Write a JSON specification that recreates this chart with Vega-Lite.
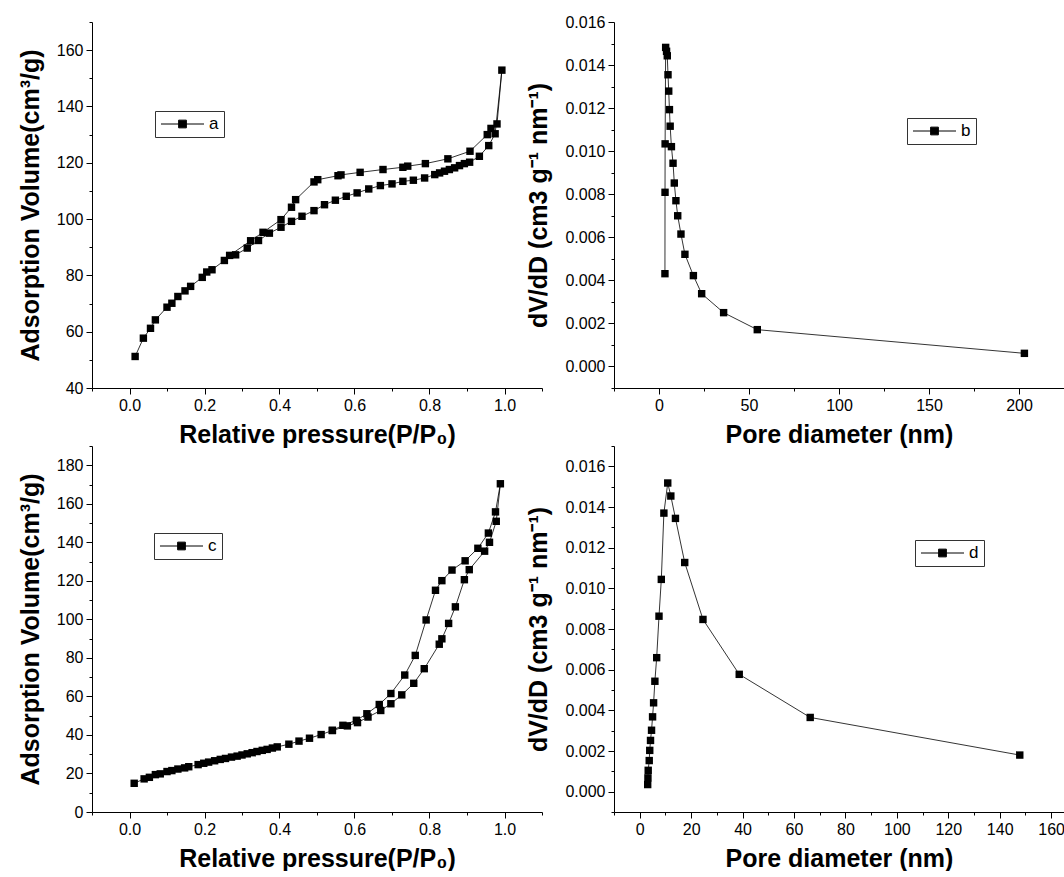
{
  "$schema": "https://vega.github.io/schema/vega-lite/v6.json",
  "background": "white",
  "padding": {"left": 18, "top": 14, "right": 0, "bottom": 0},
  "autosize": {"type": "pad"},
  "config": {
    "font": "Liberation Sans",
    "view": {"stroke": null},
    "axis": {
      "grid": false,
      "domainColor": "black",
      "domainWidth": 1,
      "tickColor": "black",
      "tickWidth": 1,
      "labelFont": "Liberation Sans",
      "labelFontSize": 16,
      "labelColor": "black",
      "labelPadding": 3,
      "labelOverlap": false,
      "labelFlush": false,
      "titleFont": "Liberation Sans",
      "titleFontSize": 25,
      "titleFontWeight": "bold",
      "titleColor": "black"
    },
    "axisX": {"titlePadding": 9},
    "axisY": {"titlePadding": 13},
    "legend": {
      "strokeColor": "#333333",
      "fillColor": "white",
      "padding": 5,
      "labelFont": "Liberation Sans",
      "labelFontSize": 17,
      "labelColor": "black",
      "labelOffset": 4,
      "symbolSize": 1850,
      "symbolStrokeWidth": 1,
      "symbolStrokeColor": "black",
      "symbolFillColor": "black",
      "clipHeight": 16
    }
  },
  "datasets": {
    "isoA": [
      {"i": 1, "p": 0.015, "v": 51.2, "s": "a"},
      {"i": 2, "p": 0.037, "v": 57.7, "s": "a"},
      {"i": 3, "p": 0.056, "v": 61.2, "s": "a"},
      {"i": 4, "p": 0.069, "v": 64.2, "s": "a"},
      {"i": 5, "p": 0.1, "v": 68.7, "s": "a"},
      {"i": 6, "p": 0.113, "v": 70.1, "s": "a"},
      {"i": 7, "p": 0.129, "v": 72.5, "s": "a"},
      {"i": 8, "p": 0.148, "v": 74.5, "s": "a"},
      {"i": 9, "p": 0.163, "v": 76.1, "s": "a"},
      {"i": 10, "p": 0.194, "v": 79.3, "s": "a"},
      {"i": 11, "p": 0.206, "v": 81.2, "s": "a"},
      {"i": 12, "p": 0.22, "v": 82.0, "s": "a"},
      {"i": 13, "p": 0.253, "v": 85.3, "s": "a"},
      {"i": 14, "p": 0.283, "v": 87.3, "s": "a"},
      {"i": 15, "p": 0.314, "v": 89.7, "s": "a"},
      {"i": 16, "p": 0.344, "v": 92.4, "s": "a"},
      {"i": 17, "p": 0.373, "v": 95.0, "s": "a"},
      {"i": 18, "p": 0.404, "v": 97.1, "s": "a"},
      {"i": 19, "p": 0.432, "v": 99.2, "s": "a"},
      {"i": 20, "p": 0.46, "v": 101.0, "s": "a"},
      {"i": 21, "p": 0.492, "v": 103.0, "s": "a"},
      {"i": 22, "p": 0.52, "v": 105.1, "s": "a"},
      {"i": 23, "p": 0.549, "v": 106.7, "s": "a"},
      {"i": 24, "p": 0.578, "v": 108.1, "s": "a"},
      {"i": 25, "p": 0.607, "v": 109.3, "s": "a"},
      {"i": 26, "p": 0.638, "v": 110.7, "s": "a"},
      {"i": 27, "p": 0.669, "v": 111.9, "s": "a"},
      {"i": 28, "p": 0.7, "v": 112.5, "s": "a"},
      {"i": 29, "p": 0.729, "v": 113.4, "s": "a"},
      {"i": 30, "p": 0.757, "v": 113.8, "s": "a"},
      {"i": 31, "p": 0.787, "v": 114.6, "s": "a"},
      {"i": 32, "p": 0.814, "v": 115.8, "s": "a"},
      {"i": 33, "p": 0.827, "v": 116.4, "s": "a"},
      {"i": 34, "p": 0.84, "v": 117.0, "s": "a"},
      {"i": 35, "p": 0.853, "v": 117.6, "s": "a"},
      {"i": 36, "p": 0.867, "v": 118.2, "s": "a"},
      {"i": 37, "p": 0.88, "v": 119.0, "s": "a"},
      {"i": 38, "p": 0.893, "v": 119.7, "s": "a"},
      {"i": 39, "p": 0.907, "v": 120.2, "s": "a"},
      {"i": 40, "p": 0.933, "v": 122.3, "s": "a"},
      {"i": 41, "p": 0.958, "v": 126.1, "s": "a"},
      {"i": 42, "p": 0.975, "v": 130.3, "s": "a"},
      {"i": 43, "p": 0.993, "v": 152.9, "s": "a"},
      {"i": 44, "p": 0.98, "v": 133.8, "s": "a"},
      {"i": 45, "p": 0.964, "v": 132.2, "s": "a"},
      {"i": 46, "p": 0.954, "v": 130.0, "s": "a"},
      {"i": 47, "p": 0.908, "v": 124.1, "s": "a"},
      {"i": 48, "p": 0.849, "v": 121.4, "s": "a"},
      {"i": 49, "p": 0.789, "v": 119.7, "s": "a"},
      {"i": 50, "p": 0.742, "v": 118.8, "s": "a"},
      {"i": 51, "p": 0.729, "v": 118.4, "s": "a"},
      {"i": 52, "p": 0.676, "v": 117.6, "s": "a"},
      {"i": 53, "p": 0.615, "v": 116.6, "s": "a"},
      {"i": 54, "p": 0.564, "v": 115.7, "s": "a"},
      {"i": 55, "p": 0.556, "v": 115.4, "s": "a"},
      {"i": 56, "p": 0.502, "v": 114.0, "s": "a"},
      {"i": 57, "p": 0.492, "v": 113.2, "s": "a"},
      {"i": 58, "p": 0.443, "v": 106.9, "s": "a"},
      {"i": 59, "p": 0.432, "v": 104.2, "s": "a"},
      {"i": 60, "p": 0.404, "v": 99.8, "s": "a"},
      {"i": 61, "p": 0.356, "v": 95.3, "s": "a"},
      {"i": 62, "p": 0.323, "v": 92.3, "s": "a"},
      {"i": 63, "p": 0.267, "v": 87.1, "s": "a"}
    ],
    "psdB": [
      {"i": 1, "d": 3.3, "v": 0.00431, "s": "b"},
      {"i": 2, "d": 3.35, "v": 0.00809, "s": "b"},
      {"i": 3, "d": 3.4, "v": 0.01034, "s": "b"},
      {"i": 4, "d": 3.7, "v": 0.01482, "s": "b"},
      {"i": 5, "d": 4.2, "v": 0.01464, "s": "b"},
      {"i": 6, "d": 4.6, "v": 0.01443, "s": "b"},
      {"i": 7, "d": 5.0, "v": 0.01355, "s": "b"},
      {"i": 8, "d": 5.4, "v": 0.01279, "s": "b"},
      {"i": 9, "d": 5.8, "v": 0.01193, "s": "b"},
      {"i": 10, "d": 6.2, "v": 0.01116, "s": "b"},
      {"i": 11, "d": 6.9, "v": 0.01021, "s": "b"},
      {"i": 12, "d": 7.8, "v": 0.00944, "s": "b"},
      {"i": 13, "d": 8.5, "v": 0.00852, "s": "b"},
      {"i": 14, "d": 9.4, "v": 0.0077, "s": "b"},
      {"i": 15, "d": 10.4, "v": 0.007, "s": "b"},
      {"i": 16, "d": 12.2, "v": 0.00615, "s": "b"},
      {"i": 17, "d": 14.4, "v": 0.00521, "s": "b"},
      {"i": 18, "d": 19.1, "v": 0.00422, "s": "b"},
      {"i": 19, "d": 23.7, "v": 0.00338, "s": "b"},
      {"i": 20, "d": 35.9, "v": 0.0025, "s": "b"},
      {"i": 21, "d": 54.6, "v": 0.00171, "s": "b"},
      {"i": 22, "d": 203, "v": 0.00061, "s": "b"}
    ],
    "isoC": [
      {"i": 1, "p": 0.0125, "v": 14.9, "s": "c"},
      {"i": 2, "p": 0.039, "v": 17.2, "s": "c"},
      {"i": 3, "p": 0.053, "v": 18.0, "s": "c"},
      {"i": 4, "p": 0.069, "v": 19.4, "s": "c"},
      {"i": 5, "p": 0.082, "v": 19.8, "s": "c"},
      {"i": 6, "p": 0.1, "v": 21.0, "s": "c"},
      {"i": 7, "p": 0.113, "v": 21.5, "s": "c"},
      {"i": 8, "p": 0.129, "v": 22.3, "s": "c"},
      {"i": 9, "p": 0.147, "v": 22.9, "s": "c"},
      {"i": 10, "p": 0.158, "v": 23.5, "s": "c"},
      {"i": 11, "p": 0.183, "v": 24.6, "s": "c"},
      {"i": 12, "p": 0.198, "v": 25.3, "s": "c"},
      {"i": 13, "p": 0.211, "v": 25.9, "s": "c"},
      {"i": 14, "p": 0.227, "v": 26.6, "s": "c"},
      {"i": 15, "p": 0.242, "v": 27.3, "s": "c"},
      {"i": 16, "p": 0.256, "v": 27.8, "s": "c"},
      {"i": 17, "p": 0.272, "v": 28.5, "s": "c"},
      {"i": 18, "p": 0.287, "v": 29.0, "s": "c"},
      {"i": 19, "p": 0.3, "v": 29.6, "s": "c"},
      {"i": 20, "p": 0.314, "v": 30.2, "s": "c"},
      {"i": 21, "p": 0.327, "v": 30.8, "s": "c"},
      {"i": 22, "p": 0.34, "v": 31.4, "s": "c"},
      {"i": 23, "p": 0.354, "v": 32.0, "s": "c"},
      {"i": 24, "p": 0.367, "v": 32.5, "s": "c"},
      {"i": 25, "p": 0.381, "v": 33.2, "s": "c"},
      {"i": 26, "p": 0.394, "v": 33.8, "s": "c"},
      {"i": 27, "p": 0.425, "v": 35.2, "s": "c"},
      {"i": 28, "p": 0.452, "v": 36.8, "s": "c"},
      {"i": 29, "p": 0.48, "v": 38.3, "s": "c"},
      {"i": 30, "p": 0.511, "v": 40.2, "s": "c"},
      {"i": 31, "p": 0.541, "v": 42.3, "s": "c"},
      {"i": 32, "p": 0.581, "v": 44.7, "s": "c"},
      {"i": 33, "p": 0.608, "v": 46.4, "s": "c"},
      {"i": 34, "p": 0.636, "v": 49.3, "s": "c"},
      {"i": 35, "p": 0.67, "v": 52.7, "s": "c"},
      {"i": 36, "p": 0.697, "v": 56.2, "s": "c"},
      {"i": 37, "p": 0.726, "v": 60.8, "s": "c"},
      {"i": 38, "p": 0.758, "v": 66.8, "s": "c"},
      {"i": 39, "p": 0.786, "v": 74.4, "s": "c"},
      {"i": 40, "p": 0.826, "v": 87.1, "s": "c"},
      {"i": 41, "p": 0.833, "v": 89.9, "s": "c"},
      {"i": 42, "p": 0.851, "v": 97.9, "s": "c"},
      {"i": 43, "p": 0.869, "v": 106.5, "s": "c"},
      {"i": 44, "p": 0.893, "v": 120.6, "s": "c"},
      {"i": 45, "p": 0.906, "v": 125.8, "s": "c"},
      {"i": 46, "p": 0.947, "v": 135.4, "s": "c"},
      {"i": 47, "p": 0.96, "v": 140.0, "s": "c"},
      {"i": 48, "p": 0.978, "v": 150.9, "s": "c"},
      {"i": 49, "p": 0.989, "v": 170.4, "s": "c"},
      {"i": 50, "p": 0.976, "v": 155.8, "s": "c"},
      {"i": 51, "p": 0.957, "v": 144.8, "s": "c"},
      {"i": 52, "p": 0.929, "v": 136.9, "s": "c"},
      {"i": 53, "p": 0.895, "v": 130.4, "s": "c"},
      {"i": 54, "p": 0.86, "v": 125.6, "s": "c"},
      {"i": 55, "p": 0.833, "v": 120.1, "s": "c"},
      {"i": 56, "p": 0.816, "v": 115.1, "s": "c"},
      {"i": 57, "p": 0.791, "v": 99.7, "s": "c"},
      {"i": 58, "p": 0.762, "v": 81.3, "s": "c"},
      {"i": 59, "p": 0.734, "v": 71.1, "s": "c"},
      {"i": 60, "p": 0.697, "v": 61.5, "s": "c"},
      {"i": 61, "p": 0.666, "v": 55.8, "s": "c"},
      {"i": 62, "p": 0.633, "v": 51.0, "s": "c"},
      {"i": 63, "p": 0.605, "v": 47.6, "s": "c"},
      {"i": 64, "p": 0.569, "v": 45.0, "s": "c"},
      {"i": 65, "p": 0.541, "v": 42.4, "s": "c"}
    ],
    "psdD": [
      {"i": 1, "d": 3.1, "v": 0.00035, "s": "d"},
      {"i": 2, "d": 3.2, "v": 0.00068, "s": "d"},
      {"i": 3, "d": 3.3, "v": 0.00105, "s": "d"},
      {"i": 4, "d": 3.7, "v": 0.00153, "s": "d"},
      {"i": 5, "d": 3.9, "v": 0.00203, "s": "d"},
      {"i": 6, "d": 4.2, "v": 0.00252, "s": "d"},
      {"i": 7, "d": 4.6, "v": 0.00302, "s": "d"},
      {"i": 8, "d": 5.0, "v": 0.00368, "s": "d"},
      {"i": 9, "d": 5.4, "v": 0.00437, "s": "d"},
      {"i": 10, "d": 5.9, "v": 0.00543, "s": "d"},
      {"i": 11, "d": 6.6, "v": 0.00659, "s": "d"},
      {"i": 12, "d": 7.5, "v": 0.00863, "s": "d"},
      {"i": 13, "d": 8.4, "v": 0.01044, "s": "d"},
      {"i": 14, "d": 9.4, "v": 0.0137, "s": "d"},
      {"i": 15, "d": 10.9, "v": 0.01518, "s": "d"},
      {"i": 16, "d": 12.1, "v": 0.01454, "s": "d"},
      {"i": 17, "d": 13.9, "v": 0.01344, "s": "d"},
      {"i": 18, "d": 17.5, "v": 0.01127, "s": "d"},
      {"i": 19, "d": 24.6, "v": 0.00847, "s": "d"},
      {"i": 20, "d": 38.7, "v": 0.00577, "s": "d"},
      {"i": 21, "d": 66.3, "v": 0.00365, "s": "d"},
      {"i": 22, "d": 147.8, "v": 0.0018, "s": "d"}
    ]
  },
  "columns": 2,
  "bounds": "flush",
  "spacing": {"row": 58, "column": 72},
  "resolve": {
    "scale": {"x": "independent", "y": "independent", "color": "independent"},
    "axis": {"x": "independent", "y": "independent"},
    "legend": {"color": "independent"}
  },
  "concat": [
    {
      "width": 450,
      "height": 366,
      "data": {"name": "isoA"},
      "encoding": {
        "x": {
          "field": "p", "type": "quantitative",
          "scale": {"domain": [-0.1, 1.1], "nice": false, "zero": false},
          "axis": {
            "title": "Relative pressure(P/P₀)",
            "values": [-0.1, 0, 0.1, 0.2, 0.3, 0.4, 0.5, 0.6, 0.7, 0.8, 0.9, 1.0, 1.1],
            "labelExpr": "round(datum.value*10) % 2 == 0 ? format(datum.value, '.1f') : ''",
            "tickSize": {"condition": {"test": "round(datum.value*10) % 2 == 0", "value": 6}, "value": 3}
          }
        },
        "y": {
          "field": "v", "type": "quantitative",
          "scale": {"domain": [40, 170], "nice": false, "zero": false},
          "axis": {
            "title": "Adsorption Volume(cm³/g)",
            "values": [40, 50, 60, 70, 80, 90, 100, 110, 120, 130, 140, 150, 160, 170],
            "labelExpr": "datum.value % 20 == 0 ? format(datum.value, 'd') : ''",
            "tickSize": {"condition": {"test": "datum.value % 20 == 0", "value": 6}, "value": 3}
          }
        }
      },
      "layer": [
        {"mark": {"type": "line", "color": "black", "strokeWidth": 0.8}, "encoding": {"order": {"field": "i", "type": "quantitative"}}},
        {
          "mark": {"type": "point", "shape": "square", "filled": true, "size": 55, "opacity": 1},
          "encoding": {
            "color": {"field": "s", "type": "nominal", "scale": {"range": ["black"]},
              "legend": {"title": null, "orient": "none", "legendX": 63, "legendY": 89, "symbolType": "M -1 0 H 1 M -0.18 -0.18 H 0.18 V 0.18 H -0.18 Z"}}
          }
        }
      ]
    },
    {
      "width": 450,
      "height": 366,
      "data": {"name": "psdB"},
      "encoding": {
        "x": {
          "field": "d", "type": "quantitative",
          "scale": {"domain": [-25, 225], "nice": false, "zero": false},
          "axis": {
            "title": "Pore diameter (nm)",
            "values": [-25, 0, 25, 50, 75, 100, 125, 150, 175, 200, 225],
            "labelExpr": "datum.value % 50 == 0 ? format(datum.value, 'd') : ''",
            "tickSize": {"condition": {"test": "datum.value % 50 == 0", "value": 6}, "value": 3}
          }
        },
        "y": {
          "field": "v", "type": "quantitative",
          "scale": {"domain": [-0.001, 0.016], "nice": false, "zero": false},
          "axis": {
            "title": "dV/dD (cm3 g⁻¹ nm⁻¹)",
            "values": [-0.001, 0, 0.001, 0.002, 0.003, 0.004, 0.005, 0.006, 0.007, 0.008, 0.009, 0.01, 0.011, 0.012, 0.013, 0.014, 0.015, 0.016],
            "labelExpr": "round(datum.value*1000) % 2 == 0 ? format(datum.value, '.3f') : ''",
            "tickSize": {"condition": {"test": "round(datum.value*1000) % 2 == 0", "value": 6}, "value": 3}
          }
        }
      },
      "layer": [
        {"mark": {"type": "line", "color": "black", "strokeWidth": 0.8}, "encoding": {"order": {"field": "i", "type": "quantitative"}}},
        {
          "mark": {"type": "point", "shape": "square", "filled": true, "size": 55, "opacity": 1},
          "encoding": {
            "color": {"field": "s", "type": "nominal", "scale": {"range": ["black"]},
              "legend": {"title": null, "orient": "none", "legendX": 293, "legendY": 96, "symbolType": "M -1 0 H 1 M -0.18 -0.18 H 0.18 V 0.18 H -0.18 Z"}}
          }
        }
      ]
    },
    {
      "width": 450,
      "height": 366,
      "data": {"name": "isoC"},
      "encoding": {
        "x": {
          "field": "p", "type": "quantitative",
          "scale": {"domain": [-0.1, 1.1], "nice": false, "zero": false},
          "axis": {
            "title": "Relative pressure(P/P₀)",
            "values": [-0.1, 0, 0.1, 0.2, 0.3, 0.4, 0.5, 0.6, 0.7, 0.8, 0.9, 1.0, 1.1],
            "labelExpr": "round(datum.value*10) % 2 == 0 ? format(datum.value, '.1f') : ''",
            "tickSize": {"condition": {"test": "round(datum.value*10) % 2 == 0", "value": 6}, "value": 3}
          }
        },
        "y": {
          "field": "v", "type": "quantitative",
          "scale": {"domain": [0, 190], "nice": false, "zero": false},
          "axis": {
            "title": "Adsorption Volume(cm³/g)",
            "values": [0, 10, 20, 30, 40, 50, 60, 70, 80, 90, 100, 110, 120, 130, 140, 150, 160, 170, 180, 190],
            "labelExpr": "datum.value % 20 == 0 ? format(datum.value, 'd') : ''",
            "tickSize": {"condition": {"test": "datum.value % 20 == 0", "value": 6}, "value": 3}
          }
        }
      },
      "layer": [
        {"mark": {"type": "line", "color": "black", "strokeWidth": 0.8}, "encoding": {"order": {"field": "i", "type": "quantitative"}}},
        {
          "mark": {"type": "point", "shape": "square", "filled": true, "size": 55, "opacity": 1},
          "encoding": {
            "color": {"field": "s", "type": "nominal", "scale": {"range": ["black"]},
              "legend": {"title": null, "orient": "none", "legendX": 62, "legendY": 87, "symbolType": "M -1 0 H 1 M -0.18 -0.18 H 0.18 V 0.18 H -0.18 Z"}}
          }
        }
      ]
    },
    {
      "width": 450,
      "height": 366,
      "data": {"name": "psdD"},
      "encoding": {
        "x": {
          "field": "d", "type": "quantitative",
          "scale": {"domain": [-10, 165], "nice": false, "zero": false},
          "axis": {
            "title": "Pore diameter (nm)",
            "values": [-10, 0, 10, 20, 30, 40, 50, 60, 70, 80, 90, 100, 110, 120, 130, 140, 150, 160],
            "labelExpr": "datum.value % 20 == 0 ? format(datum.value, 'd') : ''",
            "tickSize": {"condition": {"test": "datum.value % 20 == 0", "value": 6}, "value": 3}
          }
        },
        "y": {
          "field": "v", "type": "quantitative",
          "scale": {"domain": [-0.001, 0.017], "nice": false, "zero": false},
          "axis": {
            "title": "dV/dD (cm3 g⁻¹ nm⁻¹)",
            "values": [-0.001, 0, 0.001, 0.002, 0.003, 0.004, 0.005, 0.006, 0.007, 0.008, 0.009, 0.01, 0.011, 0.012, 0.013, 0.014, 0.015, 0.016, 0.017],
            "labelExpr": "round(datum.value*1000) % 2 == 0 && datum.value < 0.0165 ? format(datum.value, '.3f') : ''",
            "tickSize": {"condition": {"test": "round(datum.value*1000) % 2 == 0", "value": 6}, "value": 3}
          }
        }
      },
      "layer": [
        {"mark": {"type": "line", "color": "black", "strokeWidth": 0.8}, "encoding": {"order": {"field": "i", "type": "quantitative"}}},
        {
          "mark": {"type": "point", "shape": "square", "filled": true, "size": 55, "opacity": 1},
          "encoding": {
            "color": {"field": "s", "type": "nominal", "scale": {"range": ["black"]},
              "legend": {"title": null, "orient": "none", "legendX": 301, "legendY": 94, "symbolType": "M -1 0 H 1 M -0.18 -0.18 H 0.18 V 0.18 H -0.18 Z"}}
          }
        }
      ]
    }
  ]
}
